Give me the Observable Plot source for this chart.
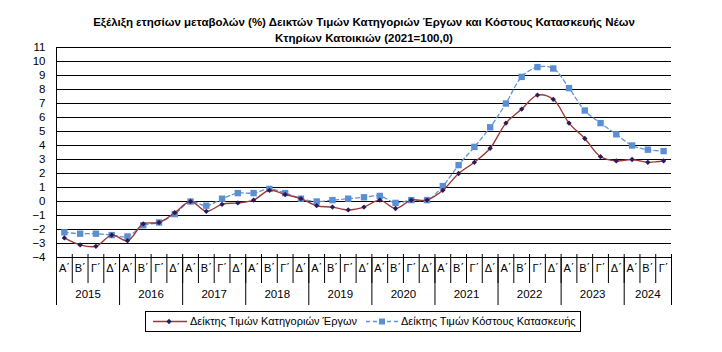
<!DOCTYPE html>
<html>
<head>
<meta charset="utf-8">
<script src="https://cdn.jsdelivr.net/npm/d3@7"></script>
<script src="https://cdn.jsdelivr.net/npm/@observablehq/plot@0.6"></script>
<style>
  html, body { margin: 0; padding: 0; background: #fff; }
  #chart svg { display: block; font-family: "Liberation Sans", Arial, sans-serif; }
</style>
</head>
<body>
<div id="chart"></div>
<script>
const titleLines = [
  "Εξέλιξη ετησίων μεταβολών (%) Δεικτών Τιμών Κατηγοριών Έργων και Κόστους Κατασκευής Νέων",
  "Κτηρίων Κατοικιών (2021=100,0)"
];
const quarters = ["Α΄", "Β΄", "Γ΄", "Δ΄"];
const years = ["2015", "2016", "2017", "2018", "2019", "2020", "2021", "2022", "2023", "2024"];
const quartersPerYear = [4, 4, 4, 4, 4, 4, 4, 4, 4, 3];
const yTicks = [-4, -3, -2, -1, 0, 1, 2, 3, 4, 5, 6, 7, 8, 9, 10, 11];
const seriesNames = ["Δείκτης Τιμών Κατηγοριών Έργων", "Δείκτης Τιμών Κόστους Κατασκευής"];

// Δείκτης Τιμών Κατηγοριών Έργων
const erga = [
  -2.6, -3.1, -3.2, -2.4,
  -2.8, -1.6, -1.5, -0.8,
   0.0, -0.7, -0.2, -0.1,
   0.1,  0.8,  0.5,  0.2,
  -0.3, -0.4, -0.6, -0.4,
   0.1, -0.5,  0.1,  0.1,
   0.8,  2.0,  2.8,  3.8,
   5.6,  6.6,  7.6,  7.3,
   5.6,  4.5,  3.2,  2.9,
   3.0,  2.8,  2.9
];
// Δείκτης Τιμών Κόστους Κατασκευής
const kostos = [
  -2.2, -2.3, -2.3, -2.4,
  -2.5, -1.7, -1.5, -0.9,
   0.0, -0.3,  0.2,  0.6,
   0.6,  0.9,  0.6,  0.2,
   0.0,  0.1,  0.2,  0.3,
   0.4, -0.1,  0.1,  0.1,
   1.1,  2.6,  3.9,  5.3,
   7.0,  8.9,  9.6,  9.5,
   8.1,  6.5,  5.6,  4.8,
   4.0,  3.7,  3.6
];

// build table
const rows = [];
years.forEach((yr, yi) => {
  for (let q = 0; q < quartersPerYear[yi]; q++) {
    rows.push({i: rows.length, year: yr, quarter: quarters[q]});
  }
});
rows.forEach((r, k) => { r.erga = erga[k]; r.kostos = kostos[k]; });
const n = rows.length;
const boundaries = d3.range(n + 1).map(k => k - 0.5);
const yearStarts = [];
const yearCenters = [];
{
  let s = 0;
  years.forEach((yr, yi) => {
    yearStarts.push(s - 0.5);
    yearCenters.push({x: s + (quartersPerYear[yi] - 1) / 2, year: yr});
    s += quartersPerYear[yi];
  });
  yearStarts.push(s - 0.5);
}

const C1 = "#9b3a3a", C1m = "#2b1a5c";
const C2 = "#5f93d6", C2m = "#5b8fd4";
const FONT = "Liberation Sans, Arial, sans-serif";

const plot = Plot.plot({
  width: 722,
  height: 352,
  marginTop: 47,
  marginBottom: 95,
  marginLeft: 56,
  marginRight: 51,
  style: {fontFamily: FONT, fontSize: "11px", color: "#000", background: "#fff"},
  x: {type: "linear", domain: [-0.5, n - 0.5], axis: null},
  y: {domain: [-4, 11], axis: null},
  marks: [
    Plot.gridY(yTicks, {stroke: "#000", strokeOpacity: 1, strokeWidth: 1}),
    Plot.axisY(yTicks, {tickSize: 0, tickPadding: 11, fontSize: 11.5, label: null}),
    Plot.ruleX([-0.5], {stroke: "#000"}),
    // small ticks above the category axis
    Plot.ruleX(boundaries, {stroke: "#000", insetTop: 207}),
    // quarter separators
    Plot.axisX(boundaries, {anchor: "bottom", tickSize: 26, tickFormat: () => "", label: null}),
    // year separators
    Plot.axisX(yearStarts, {anchor: "bottom", tickSize: 48, tickFormat: () => "", label: null}),
    // quarter labels
    Plot.axisX(d3.range(n), {anchor: "bottom", tickSize: 0, tickPadding: 7, tickFormat: k => rows[k].quarter, fontSize: 11, label: null}),
    // year labels
    Plot.axisX(yearCenters.map(d => d.x), {anchor: "bottom", tickSize: 0, tickPadding: 32, tickFormat: (x, k) => yearCenters[k].year, fontSize: 11.5, label: null}),
    // series
    Plot.line(rows, {x: "i", y: "kostos", stroke: C2, strokeWidth: 1.3, strokeDasharray: "4,3", curve: "catmull-rom"}),
    Plot.dot(rows, {x: "i", y: "kostos", symbol: "square", r: 3.6, fill: C2m, stroke: "none"}),
    Plot.line(rows, {x: "i", y: "erga", stroke: C1, strokeWidth: 1.4, curve: "catmull-rom"}),
    Plot.dot(rows, {x: "i", y: "erga", symbol: "diamond2", r: 2.4, fill: C1m, stroke: "none"}),
    // title
    Plot.text([titleLines[0]], {frameAnchor: "top", dy: -30, text: d => d, fontWeight: "bold", fontSize: 11.5}),
    Plot.text([titleLines[1]], {frameAnchor: "top", dy: -14, text: d => d, fontWeight: "bold", fontSize: 11.5})
  ]
});

// legend (inside the same SVG, below the plot frame)
const svg = d3.select(plot);
const lg = svg.append("g").attr("font-family", FONT).attr("font-size", 11).attr("text-anchor", "start");
lg.append("rect").attr("x", 145.5).attr("y", 311.5).attr("width", 435).attr("height", 20)
  .attr("fill", "#fff").attr("stroke", "#000").attr("stroke-width", 1);
lg.append("line").attr("x1", 153).attr("x2", 187).attr("y1", 321.5).attr("y2", 321.5).attr("stroke", C1).attr("stroke-width", 1.4);
lg.append("path").attr("d", d3.symbol(d3.symbolDiamond2, 18)()).attr("transform", "translate(169,321.5)").attr("fill", C1m);
lg.append("text").attr("x", 190).attr("y", 321.5).attr("dy", "0.35em").attr("text-anchor", "start").text(seriesNames[0]);
lg.append("line").attr("x1", 366).attr("x2", 398).attr("y1", 321.5).attr("y2", 321.5).attr("stroke", C2).attr("stroke-width", 1.3).attr("stroke-dasharray", "4,3");
lg.append("rect").attr("x", 379).attr("y", 318.5).attr("width", 6).attr("height", 6).attr("fill", C2m);
lg.append("text").attr("x", 401).attr("y", 321.5).attr("dy", "0.35em").attr("text-anchor", "start").text(seriesNames[1]);

document.getElementById("chart").appendChild(plot);
</script>
</body>
</html>
